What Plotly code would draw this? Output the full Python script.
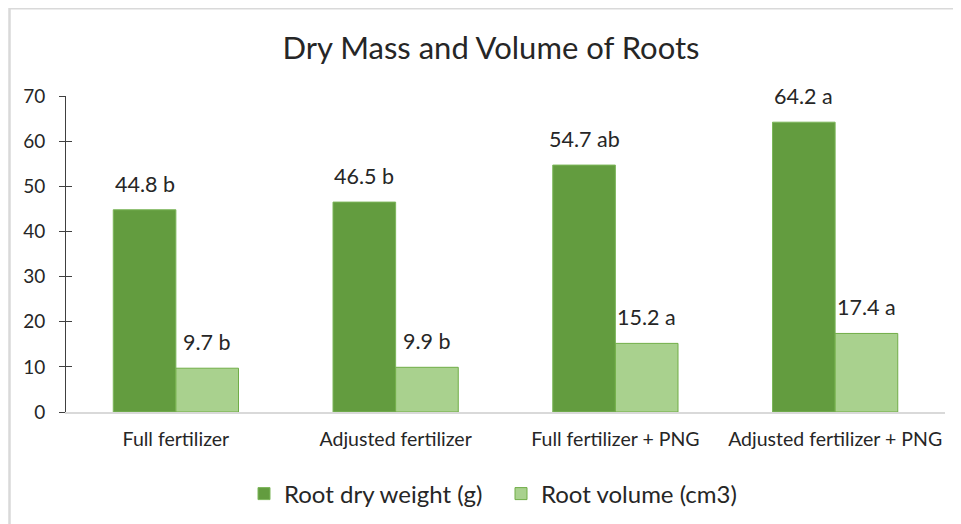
import plotly.graph_objects as go

categories = ["Full fertilizer", "Adjusted fertilizer", "Full fertilizer + PNG", "Adjusted fertilizer + PNG"]
dry_weight = [44.8, 46.5, 54.7, 64.2]
dry_letters = ["b", "b", "ab", "a"]
volume = [9.7, 9.9, 15.2, 17.4]
volume_letters = ["b", "b", "a", "a"]
y_ticks = [0, 10, 20, 30, 40, 50, 60, 70]

FONT = "Lato, 'Open Sans', sans-serif"
TXT = "#262626"

W, H = 953, 516
L, R, T, B = 58, 16, 88, 112
plot_w = W - L - R
plot_h = H - T - B
BARGAP = 0.43
bar_w = plot_w / len(categories) * (1 - BARGAP) / 2

fig = go.Figure()
fig.add_trace(go.Bar(
    name="Root dry weight (g)", x=categories, y=dry_weight,
    marker=dict(color="#639c3f", line=dict(color="#7cb65a", width=1)),
))
fig.add_trace(go.Bar(
    name="Root volume (cm3)", x=categories, y=volume,
    marker=dict(color="#a9d18e", line=dict(color="#70ad47", width=1)),
))
# invisible trace to host overlay axis for crossing ticks
fig.add_trace(go.Scatter(x=[categories[0]], y=[0], yaxis="y2", mode="markers",
                         marker=dict(opacity=0), showlegend=False, hoverinfo="skip"))

annotations = []
for vals, lets, side in [(dry_weight, dry_letters, -1), (volume, volume_letters, 1)]:
    for c, v, l in zip(categories, vals, lets):
        annotations.append(dict(
            x=c, y=v, xref="x", yref="y", text=f"{v:.1f} {l}", showarrow=False,
            xanchor="center", yanchor="bottom", xshift=side * bar_w / 2, yshift=11,
            font=dict(size=21.5, color=TXT, family=FONT),
        ))

fig.update_layout(
    width=W, height=H,
    paper_bgcolor="white", plot_bgcolor="white",
    margin=dict(l=L, r=R, t=T, b=B, autoexpand=False),
    barmode="group", bargap=BARGAP, bargroupgap=0,
    title=dict(text="Dry Mass and Volume of Roots", x=483 / W, xanchor="center",
               y=1 - 40 / H, yanchor="middle",
               font=dict(size=31, color=TXT, family=FONT)),
    font=dict(family=FONT, color=TXT),
    showlegend=True,
    legend=dict(orientation="h", x=(236 - L) / plot_w, xanchor="left",
                y=-82 / plot_h, yanchor="middle",
                entrywidth=212, entrywidthmode="pixels",
                font=dict(size=24, color=TXT, family=FONT), traceorder="normal"),
    xaxis=dict(showgrid=False, showline=True, linecolor="#d9d9d9", linewidth=1.5,
               ticks="", ticklabelstandoff=9, automargin=False,
               tickfont=dict(size=19.5, color=TXT, family=FONT)),
    yaxis=dict(range=[0, 70], tickvals=y_ticks, showgrid=False, zeroline=False,
               showline=True, linecolor="#404040", linewidth=1,
               ticks="outside", ticklen=6, tickcolor="#404040",
               ticklabelstandoff=10, automargin=False,
               tickfont=dict(size=19, color=TXT, family=FONT)),
    yaxis2=dict(range=[0, 70], tickvals=y_ticks, overlaying="y", side="left",
                showgrid=False, zeroline=False, showline=False, automargin=False,
                ticks="inside", ticklen=6, tickcolor="#404040", showticklabels=False),
    annotations=annotations,
    shapes=[
        dict(type="line", xref="paper", yref="paper",
             x0=(1 - L) / plot_w, x1=(W - L) / plot_w,
             y0=1 + (T - 0.5) / plot_h, y1=1 + (T - 0.5) / plot_h,
             line=dict(color="#d9d9d9", width=2)),
        dict(type="line", xref="paper", yref="paper",
             x0=(1.5 - L) / plot_w, x1=(1.5 - L) / plot_w,
             y0=1 + T / plot_h, y1=-B / plot_h,
             line=dict(color="#d9d9d9", width=2.5)),
    ],
)

fig.write_html("out.html")
